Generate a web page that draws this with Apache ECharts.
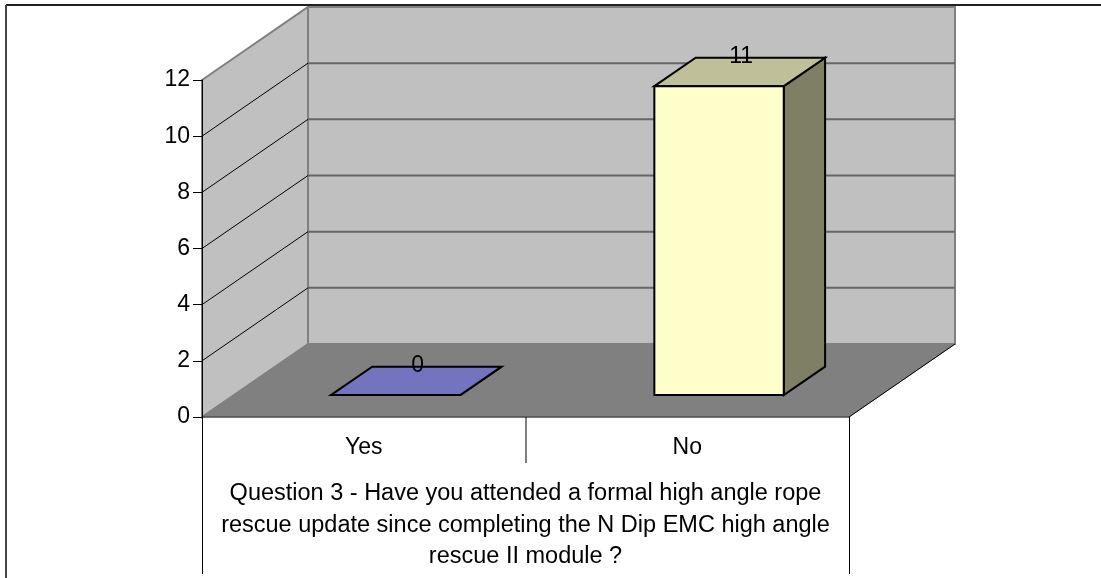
<!DOCTYPE html>
<html>
<head>
<meta charset="utf-8">
<style>
html, body { margin: 0; padding: 0; background: #fff; }
#chart { width: 1101px; height: 578px; }
</style>
<script src="https://cdn.jsdelivr.net/npm/echarts@6/dist/echarts.min.js"></script>
</head>
<body>
<div id="chart"></div>
<script>
const categories = ['Yes', 'No']
const answers = [0, 11]
const yTicks = [0, 2, 4, 6, 8, 10, 12]
const axisTitle = [
  'Question 3 - Have you attended a formal high angle rope',
  'rescue update since completing the N Dip EMC high angle',
  'rescue II module ?'
]

// fake 3d: how far the back wall sits from the front plane, in pixels
const depthX = 106
const depthY = 73
const barFront = 0.3
const barBack = 0.69
const barShare = 0.4
const fontName = '"Liberation Sans", Arial, sans-serif'

function poly(points, fill, stroke, width) {
  return {
    type: 'polygon',
    shape: { points: points },
    style: { fill: fill, stroke: stroke, lineWidth: width, lineJoin: 'miter' }
  }
}

function line(x1, y1, x2, y2, stroke, width) {
  return {
    type: 'line',
    shape: { x1: x1, y1: y1, x2: x2, y2: y2 },
    style: { stroke: stroke, lineWidth: width }
  }
}

function renderWalls(params, api) {
  const band = api.size([1, 0])[0]
  const left = api.coord([0, 0])[0] - band / 2
  const right = api.coord([categories.length - 1, 0])[0] + band / 2
  const y0 = api.coord([0, 0])[1]
  const yMax = api.coord([0, yTicks[yTicks.length - 1]])[1]
  const children = [
    poly([[left + depthX, yMax - depthY], [right + depthX, yMax - depthY], [right + depthX, y0 - depthY], [left + depthX, y0 - depthY]], '#c0c0c0', '#808080', 2),
    poly([[left, yMax], [left + depthX, yMax - depthY], [left + depthX, y0 - depthY], [left, y0]], '#c0c0c0', '#808080', 2),
    poly([[left, y0], [left + depthX, y0 - depthY], [right + depthX, y0 - depthY], [right, y0]], '#808080', '#808080', 1)
  ]
  yTicks.forEach(function(v) {
    const y = api.coord([0, v])[1]
    if (v > 0 && v < yTicks[yTicks.length - 1]) {
      children.push(line(left + depthX, y - depthY, right + depthX, y - depthY, '#666666', 2))
      children.push(line(left, y, left + depthX, y - depthY, '#000000', 1))
    }
  })
  children.push(line(right, y0, right + depthX, y0 - depthY, '#000000', 1))
  children.push(line(left, y0, right, y0, '#333333', 1))
  // category dividers below the floor
  const bottom = api.getHeight() - 4
  children.push(line(left + 0.5, y0, left + 0.5, bottom, '#000000', 1))
  children.push(line(left + band + 0.5, y0, left + band + 0.5, y0 + 46, '#000000', 1))
  children.push(line(right + 0.5, y0, right + 0.5, bottom, '#000000', 1))
  return { type: 'group', children: children }
}

function renderBar(params, api) {
  const band = api.size([1, 0])[0]
  const center = api.coord([api.value(0), 0])[0]
  const base = api.coord([0, 0])[1]
  const top = api.coord([0, api.value(1)])[1]
  const half = band * barShare / 2
  const fx = depthX * barFront
  const fy = depthY * barFront
  const bx = depthX * barBack
  const by = depthY * barBack
  const x1 = center - half + fx
  const x2 = center + half + fx
  const x3 = center - half + bx
  const x4 = center + half + bx
  const colors = params.dataIndex === 0
    ? { front: '#9999ff', top: '#7373bf', side: '#5c5c99' }
    : { front: '#ffffcc', top: '#bfbf99', side: '#7f7f66' }
  return {
    type: 'group',
    children: [
      poly([[x2, top - fy], [x4, top - by], [x4, base - by], [x2, base - fy]], colors.side, '#000000', 2),
      poly([[x1, top - fy], [x3, top - by], [x4, top - by], [x2, top - fy]], colors.top, '#000000', 2),
      poly([[x1, top - fy], [x2, top - fy], [x2, base - fy], [x1, base - fy]], colors.front, '#000000', 2),
      {
        type: 'text',
        style: {
          x: center + (fx + bx) / 2 + 1.5,
          y: top - by - 1,
          text: String(api.value(1)),
          fill: '#000000',
          font: '23px ' + fontName,
          align: 'center',
          verticalAlign: 'middle'
        }
      }
    ]
  }
}

const chart = echarts.init(document.getElementById('chart'), null, { renderer: 'canvas' })
chart.setOption({
  animation: false,
  backgroundColor: '#ffffff',
  textStyle: { fontFamily: fontName },
  graphic: [
    { type: 'line', z: 10, shape: { x1: 6, y1: 5, x2: 1101, y2: 5 }, style: { stroke: '#222222', lineWidth: 2 } },
    { type: 'line', z: 10, shape: { x1: 6, y1: 5, x2: 6, y2: 578 }, style: { stroke: '#444444', lineWidth: 2 } }
  ],
  grid: { left: 202, right: 252, top: 80, bottom: 161 },
  xAxis: {
    type: 'category',
    data: categories,
    z: 5,
    axisLine: { show: false },
    axisTick: { show: false },
    axisLabel: { color: '#000000', fontSize: 23, margin: 19, lineHeight: 24 },
    name: axisTitle.join('\n'),
    nameLocation: 'middle',
    nameGap: 61,
    nameTextStyle: { color: '#000000', fontSize: 23.5, lineHeight: 31.5, verticalAlign: 'top' }
  },
  yAxis: {
    type: 'value',
    min: 0,
    max: 12,
    interval: 2,
    z: 5,
    splitLine: { show: false },
    axisLine: { show: true, lineStyle: { color: '#000000', width: 1 } },
    axisTick: { show: true, length: 9, lineStyle: { color: '#000000', width: 1 } },
    axisLabel: { color: '#000000', fontSize: 23, margin: 12, padding: [3, 0, 0, 0] }
  },
  series: [
    {
      type: 'custom',
      z: 1,
      silent: true,
      clip: false,
      renderItem: renderWalls,
      data: [[0, 0]]
    },
    {
      type: 'custom',
      z: 3,
      clip: false,
      renderItem: renderBar,
      data: categories.map(function(c, i) { return [i, answers[i]] })
    }
  ]
})
</script>
</body>
</html>
